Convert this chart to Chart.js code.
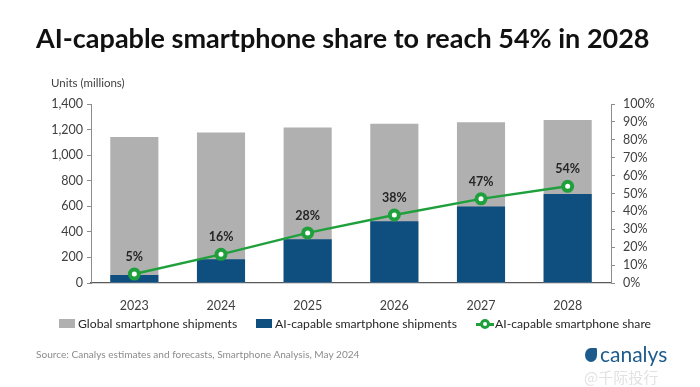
<!DOCTYPE html>
<html>
<head>
<meta charset="utf-8">
<script src="https://cdn.jsdelivr.net/npm/chart.js@4.4.1/dist/chart.umd.min.js"></script>
<style>
      body { margin: 0; background: #fff; font-family: Lato, sans-serif; }
      #wrap { position: relative; width: 700px; height: 387px; overflow: hidden; }
      #chart { position: absolute; left: 0; top: 0; }
      .txt { position: absolute; white-space: nowrap; }
      #title { left: 36px; top: 24px; font-size: 27px; font-weight: bold; color: #111; line-height: 27px; }
      #units { left: 51px; top: 76px; font-size: 11.5px; color: #404040; }
      .leg { position: absolute; top: 316px; font-size: 12.2px; color: #262626; white-space: nowrap; }
      .box { display: inline-block; width: 16px; height: 9px; margin-right: 3px; vertical-align: 0px; }
      #source { left: 36px; top: 348px; font-size: 10.1px; color: #8c8c8c; }
      #logo { left: 600px; top: 341px; font-size: 21px; color: #1d5b8c; }
      #swirl { position: absolute; left: 585px; top: 348px; width: 12px; height: 14px; border-radius: 50% 10% 50% 50%; background: #1d5b8c; }
      #mark { left: 584px; top: 366px; font-size: 15px; color: #e2e2e2; font-family: "Noto Sans CJK SC", sans-serif; }
</style>
</head>
<body>
<div id="wrap">
      <canvas id="chart" width="700" height="387"></canvas>
      <div class="txt" id="title">AI-capable smartphone share to reach 54% in 2028</div>
      <div class="txt" id="units">Units (millions)</div>
      <div class="leg" style="left:59px"><span class="box" style="background:#b0b0b0"></span>Global smartphone shipments</div>
      <div class="leg" style="left:256px"><span class="box" style="background:#0f4f80"></span>AI-capable smartphone shipments</div>
      <div class="leg" style="left:476px"><span style="display:inline-block;position:relative;width:18px;height:10px;margin-right:1px;vertical-align:-1px">
            <span style="position:absolute;left:0;top:4px;width:18px;height:2.5px;background:#1fa03c"></span>
            <span style="position:absolute;left:4px;top:0;width:4px;height:4px;border:3px solid #1fa03c;border-radius:50%;background:#fff"></span>
      </span>AI-capable smartphone share</div>
      <div class="txt" id="source">Source:  Canalys estimates and forecasts, Smartphone  Analysis, May 2024</div>
      <div id="swirl"></div>
      <div class="txt" id="logo">canalys</div>
      <div class="txt" id="mark">@千际投行</div>
</div>
<script>
const years = ['2023', '2024', '2025', '2026', '2027', '2028'];
const globalShipments = [1142, 1178, 1217, 1246, 1257, 1275];
const aiShipments = [63, 186, 342, 483, 598, 697];
const aiShare = [5, 16, 28, 38, 47, 54];

const tickFont = { family: 'Lato', size: 12.5 };
const tickColor = '#404040';

// draws the share values above each point
const shareLabels = {
      id: 'shareLabels',
      afterDatasetsDraw(chart)
      {
            const ctx = chart.ctx;
            const meta = chart.getDatasetMeta(2);
            ctx.save();
            ctx.font = 'bold 12.5px Lato';
            ctx.fillStyle = '#262626';
            ctx.textAlign = 'center';
            ctx.textBaseline = 'middle';
            meta.data.forEach(function (pt, i)
            {
                  ctx.fillText(aiShare[i] + '%', pt.x, pt.y - 17);
            });
            ctx.restore();
      }
};

new Chart(document.getElementById('chart'), {
      type: 'bar',
      data: {
            labels: years,
            datasets: [
                  {
                        label: 'AI-capable smartphone shipments',
                        data: aiShipments,
                        backgroundColor: '#0f4f80',
                        grouped: false,
                        order: 1,
                        yAxisID: 'y'
                  },
                  {
                        label: 'Global smartphone shipments',
                        data: globalShipments,
                        backgroundColor: '#b0b0b0',
                        grouped: false,
                        order: 2,
                        yAxisID: 'y'
                  },
                  {
                        type: 'line',
                        label: 'AI-capable smartphone share',
                        data: aiShare,
                        yAxisID: 'y1',
                        borderColor: '#1fa03c',
                        borderWidth: 2.5,
                        pointRadius: 4.5,
                        pointBorderWidth: 4,
                        pointBackgroundColor: '#fff',
                        pointBorderColor: '#1fa03c',
                        order: 0
                  }
            ]
      },
      options: {
            responsive: false,
            animation: false,
            categoryPercentage: 1,
            barPercentage: 0.555,
            layout: { padding: { top: 104, left: 0, right: 0, bottom: 0 } },
            plugins: {
                  legend: { display: false },
                  tooltip: { enabled: false }
            },
            scales: {
                  x: {
                        afterFit: function (s) { s.height = 104; },
                        grid: { display: false },
                        border: { display: true, color: '#595959', width: 1.2 },
                        ticks: { font: tickFont, color: tickColor, padding: 7 }
                  },
                  y: {
                        position: 'left',
                        min: 0,
                        max: 1400,
                        afterFit: function (s) { s.width = 91; },
                        grid: { drawOnChartArea: false, tickLength: 4, color: '#8c8c8c' },
                        border: { display: true, color: '#8c8c8c' },
                        ticks: { stepSize: 200, autoSkip: false, font: tickFont, color: tickColor, padding: 4 }
                  },
                  y1: {
                        position: 'right',
                        min: 0,
                        max: 100,
                        afterFit: function (s) { s.width = 89; },
                        grid: { drawOnChartArea: false, tickLength: 4, color: '#8c8c8c' },
                        border: { display: true, color: '#8c8c8c' },
                        ticks: {
                              stepSize: 10,
                              autoSkip: false,
                              font: tickFont,
                              color: tickColor,
                              padding: 8,
                              callback: function (v) { return v + '%'; }
                        }
                  }
            }
      },
      plugins: [shareLabels]
});
</script>
</body>
</html>
